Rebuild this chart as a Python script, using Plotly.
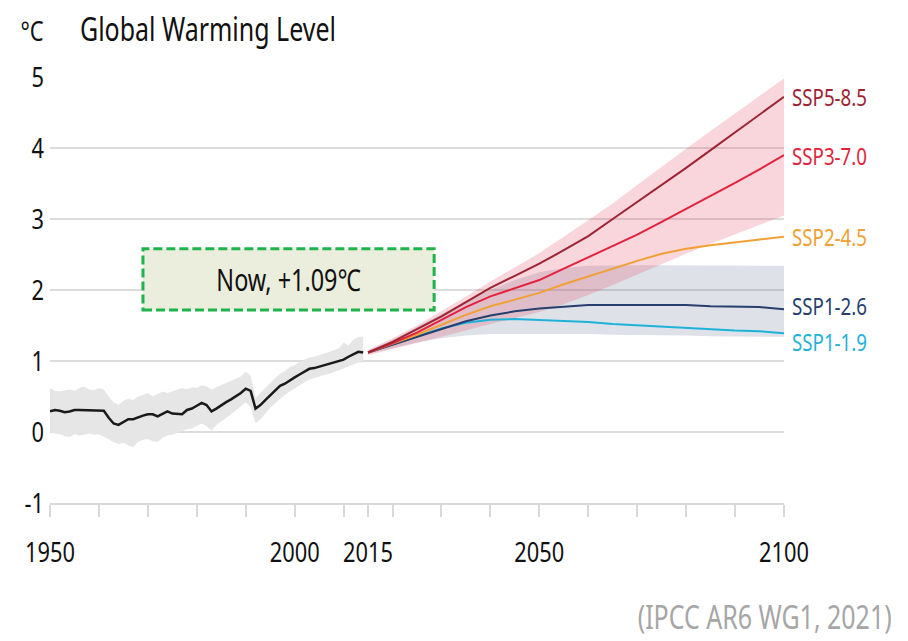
import plotly.graph_objects as go

# Observed global surface temperature change (°C), 1950-2014
hist_years = list(range(1950, 2015))
hist_mean = [0.29, 0.31, 0.30, 0.28, 0.29, 0.31, 0.31, 0.31, 0.31, 0.31,
             0.31, 0.30, 0.20, 0.12, 0.10, 0.14, 0.18, 0.18, 0.21, 0.23,
             0.25, 0.25, 0.22, 0.26, 0.29, 0.26, 0.25, 0.25, 0.31, 0.33,
             0.37, 0.41, 0.38, 0.29, 0.33, 0.38, 0.42, 0.46, 0.50, 0.55,
             0.61, 0.58, 0.33, 0.38, 0.45, 0.52, 0.58, 0.65, 0.68, 0.73,
             0.77, 0.81, 0.85, 0.89, 0.90, 0.92, 0.93, 0.95, 0.97, 0.99,
             1.02, 1.06, 1.10, 1.13, 1.12]
hist_upper = [0.62, 0.58, 0.57, 0.59, 0.60, 0.58, 0.62, 0.64, 0.60, 0.59,
              0.62, 0.60, 0.50, 0.42, 0.38, 0.44, 0.47, 0.45, 0.50, 0.52,
              0.55, 0.50, 0.54, 0.57, 0.55, 0.57, 0.60, 0.62, 0.60, 0.63,
              0.62, 0.66, 0.64, 0.60, 0.63, 0.66, 0.68, 0.71, 0.74, 0.78,
              0.85, 0.80, 0.48, 0.55, 0.62, 0.70, 0.76, 0.82, 0.86, 0.92,
              0.94, 0.99, 1.02, 1.05, 1.06, 1.08, 1.10, 1.12, 1.15, 1.18,
              1.26, 1.22, 1.30, 1.34, 1.34]
hist_lower = [0.00, -0.02, -0.03, -0.06, -0.07, -0.03, -0.05, -0.04, -0.02, -0.04,
              -0.03, -0.06, -0.10, -0.14, -0.17, -0.15, -0.19, -0.21, -0.14, -0.11,
              -0.10, -0.13, -0.14, -0.08, -0.05, -0.04, -0.01, 0.02, 0.04, 0.05,
              0.08, 0.12, 0.08, 0.02, 0.10, 0.15, 0.20, 0.25, 0.30, 0.36,
              0.42, 0.35, 0.12, 0.18, 0.26, 0.34, 0.40, 0.47, 0.52, 0.57,
              0.62, 0.66, 0.70, 0.74, 0.77, 0.79, 0.80, 0.82, 0.84, 0.86,
              0.89, 0.92, 0.95, 0.98, 0.98]

# Scenario projections (°C), 2015-2100 in 5-year steps
proj_years = list(range(2015, 2101, 5))
ssp585 = [1.12, 1.27, 1.45, 1.63, 1.83, 2.03, 2.20, 2.37, 2.56, 2.76,
          3.00, 3.24, 3.47, 3.72, 3.97, 4.22, 4.47, 4.72]
ssp370 = [1.12, 1.25, 1.40, 1.58, 1.76, 1.91, 2.03, 2.14, 2.30, 2.46,
          2.62, 2.78, 2.96, 3.14, 3.32, 3.51, 3.70, 3.90]
ssp245 = [1.12, 1.24, 1.37, 1.51, 1.65, 1.77, 1.87, 1.96, 2.08, 2.19,
          2.31, 2.41, 2.51, 2.58, 2.63, 2.67, 2.71, 2.75]
ssp126 = [1.12, 1.23, 1.35, 1.46, 1.56, 1.64, 1.70, 1.74, 1.77, 1.79,
          1.79, 1.79, 1.79, 1.79, 1.77, 1.76, 1.76, 1.73]
ssp119 = [1.12, 1.23, 1.35, 1.46, 1.54, 1.58, 1.59, 1.58, 1.57, 1.55,
          1.52, 1.50, 1.48, 1.46, 1.45, 1.43, 1.42, 1.39]

# Very likely ranges
ssp370_upper = [1.16, 1.32, 1.50, 1.70, 1.91, 2.12, 2.32, 2.52, 2.75, 2.98,
                3.22, 3.48, 3.74, 3.99, 4.24, 4.49, 4.74, 4.98]
ssp370_lower = [1.08, 1.16, 1.25, 1.34, 1.43, 1.52, 1.61, 1.69, 1.80, 1.93,
                2.07, 2.21, 2.36, 2.51, 2.65, 2.79, 2.92, 3.05]
ssp126_upper = [1.14, 1.30, 1.48, 1.66, 1.84, 2.00, 2.14, 2.25, 2.31, 2.34,
                2.35, 2.35, 2.35, 2.35, 2.34, 2.34, 2.34, 2.34]
ssp126_lower = [1.10, 1.18, 1.26, 1.32, 1.36, 1.38, 1.39, 1.39, 1.38, 1.38,
                1.37, 1.37, 1.36, 1.36, 1.35, 1.35, 1.34, 1.34]

scenario_names = ["SSP1-1.9", "SSP1-2.6", "SSP2-4.5", "SSP3-7.0", "SSP5-8.5"]
scenario_values = [ssp119, ssp126, ssp245, ssp370, ssp585]
scenario_colors = ["#1fb2d9", "#263f6e", "#f0a035", "#e3223d", "#9e2433"]
label_nudge = {"SSP1-1.9": -0.11, "SSP1-2.6": 0.05}

y_ticks = [-1, 0, 1, 2, 3, 4, 5]
y_tick_labels = ["-1", "0", "1", "2", "3", "4", "5"]
x_tick_vals = [1950, 1960, 1970, 1980, 1990, 2000, 2010, 2015, 2020, 2030,
               2040, 2050, 2060, 2070, 2080, 2090, 2100]
x_tick_labels = {1950: "1950", 2000: "2000", 2015: "2015", 2050: "2050", 2100: "2100"}

FONT = "Noto Sans, Open Sans, sans-serif"
# horizontal compression applied to every label (condensed lettering)
SQUISH = 0.78

fig = go.Figure()


def band(xs, lo, hi, color):
    fig.add_trace(go.Scatter(
        x=list(xs) + list(xs)[::-1], y=list(hi) + list(lo)[::-1],
        fill="toself", fillcolor=color, line=dict(width=0),
        mode="lines", hoverinfo="skip", showlegend=False))


band(hist_years, hist_lower, hist_upper, "#e6e6e6")
band(proj_years, ssp126_lower, ssp126_upper, "rgba(90,105,140,0.2)")
band(proj_years, ssp370_lower, ssp370_upper, "rgba(226,70,90,0.22)")

fig.add_trace(go.Scatter(x=hist_years, y=hist_mean, mode="lines",
                         line=dict(color="#1a1a1a", width=2.5),
                         showlegend=False))

for name, vals, col in zip(scenario_names, scenario_values, scenario_colors):
    fig.add_trace(go.Scatter(x=proj_years, y=vals, mode="lines", name=name,
                             line=dict(color=col, width=2), showlegend=False))
    fig.add_annotation(x=proj_years[-1], y=vals[-1] + label_nudge.get(name, 0),
                       xref="x", yref="y", text=name, showarrow=False,
                       xanchor="left", yanchor="middle", align="left", xshift=6,
                       font=dict(family=FONT, size=24, color=col))

# "Now" callout box
fig.add_shape(type="rect", xref="x", yref="y", x0=1969, x1=2028.5, y0=1.72, y1=2.58,
              line=dict(color="#1fb34b", width=3, dash="9px,4px"),
              fillcolor="#ebeedd")
fig.add_annotation(x=1998.8, y=2.15, xref="x", yref="y", text="Now, +1.09℃",
                   showarrow=False, font=dict(family=FONT, size=30, color="#111111"))

# Title, unit and source
fig.add_annotation(x=(78 - 50) / 734, y=(503 - 28) / 426, xref="paper", yref="paper",
                   text="Global Warming Level", showarrow=False, xanchor="left",
                   align="left", yanchor="middle",
                   font=dict(family=FONT, size=32, color="#111111"))
fig.add_annotation(x=(46 - 50) / 734, y=(503 - 30) / 426, xref="paper", yref="paper",
                   text="°C", showarrow=False, xanchor="right", align="right",
                   yanchor="middle", font=dict(family=FONT, size=28, color="#111111"))
fig.add_annotation(x=(894 - 50) / 734, y=(503 - 616) / 426, xref="paper", yref="paper",
                   text="(IPCC AR6 WG1, 2021)", showarrow=False, xanchor="right",
                   align="right", yanchor="middle",
                   font=dict(family=FONT, size=32, color="#a6a6a6"))

fig.update_layout(
    width=908, height=641,
    margin=dict(l=50, r=124, t=77, b=138),
    paper_bgcolor="white", plot_bgcolor="white",
    xaxis=dict(range=[1950, 2100], tickmode="array", tickvals=x_tick_vals,
               ticktext=[x_tick_labels.get(v, "") for v in x_tick_vals],
               ticks="outside", ticklen=12, tickwidth=2, tickcolor="#d9d9d9",
               showgrid=False, zeroline=False, showline=True, linecolor="#d9d9d9",
               linewidth=2, ticklabelstandoff=11,
               tickfont=dict(family=FONT, size=28, color="#111111")),
    yaxis=dict(range=[-1, 5], tickmode="array", tickvals=y_ticks,
               ticktext=y_tick_labels,
               showgrid=True, gridcolor="#dcdcdc", gridwidth=2, zeroline=False,
               showline=False, ticks="", ticklabelstandoff=5,
               tickfont=dict(family=FONT, size=28, color="#111111")),
)

# Condense the lettering: shrink each text run horizontally about its anchor
squish_js = """
var gd = document.getElementById('{plot_id}');
function condenseText() {
  gd.querySelectorAll('svg text').forEach(function (t) {
    if (!t.textContent) return;
    t.removeAttribute('textLength');
    var w = t.getComputedTextLength();
    if (w > 0) {
      t.setAttribute('textLength', (w * %s).toFixed(2));
      t.setAttribute('lengthAdjust', 'spacingAndGlyphs');
    }
  });
}
condenseText();
gd.on('plotly_afterplot', condenseText);
""" % SQUISH

fig.write_html("out.html", post_script=squish_js)
